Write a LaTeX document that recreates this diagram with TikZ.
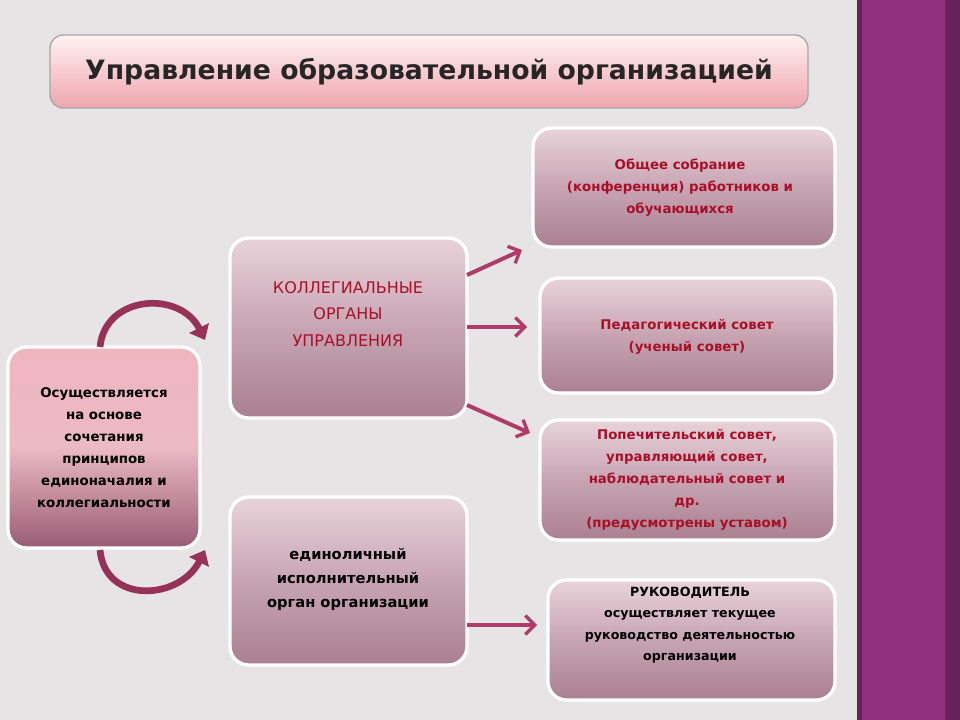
\documentclass[tikz,border=0pt]{standalone}
\usepackage{fontspec}
\setmainfont{DejaVu Sans}
\usetikzlibrary{arrows.meta}
\definecolor{bg}{HTML}{E6E4E5}
\definecolor{band}{HTML}{92307F}
\definecolor{mag}{HTML}{B03A68}
\definecolor{dred}{HTML}{A8102A}
\definecolor{btop}{HTML}{E8D3DA}
\definecolor{bmid}{HTML}{C8A4B2}
\definecolor{bbot}{HTML}{A9808F}
\tikzset{
  x=0.75pt,y=-0.75pt,
  boxx/.style={draw=white,line width=2.5pt,rounded corners=14pt,top color=btop,bottom color=bbot,middle color=bmid},
  txt/.style={align=center,font=\fontsize{10}{16.5}\selectfont\bfseries},
  arr/.style={draw=mag,line width=3pt,-{Straight Barb[length=7pt,width=14pt,line width=2.5pt]}},
}
\begin{document}
\begin{tikzpicture}
\useasboundingbox (0,0) rectangle (960,720);
\fill[bg] (0,0) rectangle (857,720);
\fill[band!70!black] (857,0) rectangle (960,720);
\fill[band] (862,0) rectangle (945,720);
% title
\draw[draw=gray!70,line width=1pt,rounded corners=10pt,top color=white!80!pink,bottom color=pink!80!mag] (50,35) rectangle (808,108);
\node (title) at (429,72) {\fontsize{20}{22}\selectfont\bfseries\color{black!85}Управление образовательной организацией};
% boxes
\path[boxx,top color=pink!70!mag!70,bottom color=mag!50!gray,middle color=pink!60!mag!60] (8,347) rectangle (200,548);
\node[txt] (left) at (104,448) {Осуществляется\\на основе\\сочетания\\принципов\\единоначалия и\\коллегиальности};
\path[boxx] (230,238) rectangle (467,418);
\node[txt,text=dred,font=\fontsize{12}{20}\selectfont\mdseries] (coll) at (348,314) {КОЛЛЕГИАЛЬНЫЕ\\ОРГАНЫ\\УПРАВЛЕНИЯ};
\coordinate (collE) at (467,327);
\path[boxx] (230,497) rectangle (467,665);
\node[txt,font=\fontsize{11}{18}\selectfont\bfseries] (ed) at (348,579) {единоличный\\исполнительный\\орган организации};
\path[boxx] (533,128) rectangle (835,247);
\node[txt,text=dred] (r1) at (680,188) {Общее собрание\\(конференция) работников и\\обучающихся};
\path[boxx] (540,278) rectangle (835,393);
\node[txt,text=dred] (r2) at (687,337) {Педагогический совет\\(ученый совет)};
\path[boxx] (540,420) rectangle (835,540);
\node[txt,text=dred] (r3) at (687,480) {Попечительский совет,\\управляющий совет,\\наблюдательный совет и\\др.\\(предусмотрены уставом)};
\path[boxx] (548,580) rectangle (835,700);
\node[txt,font=\fontsize{9.5}{16}\selectfont\bfseries] (r4) at (690,625) {РУКОВОДИТЕЛЬ\\осуществляет текущее\\руководство деятельностью\\организации};
% arrows
\coordinate (a1s) at (467,275); \coordinate (a1e) at (522,250);
\coordinate (a2e) at (527,327);
\coordinate (a3s) at (467,405); \coordinate (a3e) at (530,433);
\coordinate (a4s) at (467,625); \coordinate (a4e) at (537,625);
\draw[arr] (a1s) -- (a1e);
\draw[arr] (collE) -- (a2e);
\draw[arr] (a3s) -- (a3e);
\draw[arr] (a4s) -- (a4e);
% curved arrows
\coordinate (c1s) at (100,347); \coordinate (c1e) at (205,340);
\coordinate (c2s) at (100,550); \coordinate (c2e) at (205,550);
\draw[draw=mag!85!black,line width=5pt,-{Triangle[length=10pt,width=16pt]}] (c1s) .. controls (105,295) and (180,290) .. (c1e);
\draw[draw=mag!85!black,line width=5pt,-{Triangle[length=10pt,width=16pt]}] (c2s) .. controls (105,605) and (180,600) .. (c2e);
\end{tikzpicture}
\end{document}
